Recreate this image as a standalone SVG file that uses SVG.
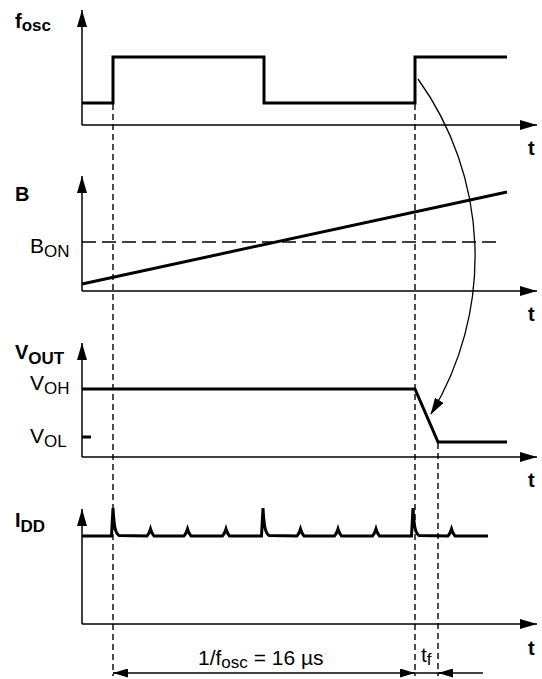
<svg xmlns="http://www.w3.org/2000/svg" width="542" height="679" viewBox="0 0 542 679">
<style>
  .ax{fill:none;stroke:#000;stroke-width:1.5}
  .wave{fill:none;stroke:#000;stroke-width:3;stroke-linejoin:miter}
  .dash{fill:none;stroke:#000;stroke-width:1.4;stroke-dasharray:6 4}
  .hdash{fill:none;stroke:#000;stroke-width:1.4;stroke-dasharray:14 6}
  .thin{fill:none;stroke:#000;stroke-width:1.3}
  .lbl{font-family:"Liberation Sans",Arial,sans-serif;font-weight:bold;font-size:20px;fill:#000}
  .txt{font-family:"Liberation Sans",Arial,sans-serif;font-size:21px;fill:#000}
  .sub{font-size:17px}
</style>
<defs>
  <marker id="axArrow" markerUnits="userSpaceOnUse" markerWidth="17" markerHeight="10" refX="17" refY="5" orient="auto" viewBox="0 0 17 10">
    <path d="M0,0 L17,5 L0,10 z" fill="#000"/>
  </marker>
  <marker id="dimArrow" markerUnits="userSpaceOnUse" markerWidth="15" markerHeight="9" refX="15" refY="4.5" orient="auto" viewBox="0 0 15 9">
    <path d="M0,0 L15,4.5 L0,9 z" fill="#000"/>
  </marker>
  <marker id="curveArrow" markerUnits="userSpaceOnUse" markerWidth="17" markerHeight="10" refX="16" refY="5" orient="auto" viewBox="0 0 17 10">
    <path d="M0,0 L17,5 L0,10 z" fill="#000"/>
  </marker>
</defs>

<g id="connectors">
  <path class="dash" d="M113,104 V676"/>
  <path class="dash" d="M415,104 V676"/>
  <path class="dash" d="M438,443 V676"/>
  <path class="thin" d="M418,79 A304,304 0 0 1 431,414" marker-end="url(#curveArrow)"/>
  <path class="thin" d="M113,673 H483"/>
  <path class="thin" d="M128,673 H113" marker-end="url(#dimArrow)"/>
  <path class="thin" d="M400,673 H415" marker-end="url(#dimArrow)"/>
  <path class="thin" d="M453,673 H438" marker-end="url(#dimArrow)"/>
</g>

<g id="fosc">
  <path class="ax" d="M82,125 V10" marker-end="url(#axArrow)"/>
  <path class="ax" d="M82,125 H537" marker-end="url(#axArrow)"/>
  <path class="wave" d="M82,103 H113 V57 H264 V103 H415 V57 H507"/>
  <text class="lbl" x="15" y="28">f<tspan class="sub" dy="3">osc</tspan></text>
  <text class="lbl" x="528" y="155">t</text>
</g>

<g id="B">
  <path class="ax" d="M82,291 V176" marker-end="url(#axArrow)"/>
  <path class="ax" d="M82,291 H537" marker-end="url(#axArrow)"/>
  <path class="hdash" d="M82,242 H499"/>
  <path class="wave" d="M82,284 L507,192"/>
  <text class="lbl" x="15" y="201">B</text>
  <text class="txt" x="30" y="253">B<tspan class="sub" dy="4">ON</tspan></text>
  <text class="lbl" x="528" y="321">t</text>
</g>

<g id="VOUT">
  <path class="ax" d="M82,457 V343" marker-end="url(#axArrow)"/>
  <path class="ax" d="M82,457 H537" marker-end="url(#axArrow)"/>
  <path class="wave" d="M82,389 H415 L438,442 H507"/>
  <path class="wave" d="M82,437 H91"/>
  <text class="lbl" x="15" y="359">V<tspan class="sub" dy="5">OUT</tspan></text>
  <text class="txt" x="30" y="390">V<tspan class="sub" dy="3.5">OH</tspan></text>
  <text class="txt" x="30" y="443">V<tspan class="sub" dy="3.5">OL</tspan></text>
  <text class="lbl" x="528" y="487">t</text>
</g>

<g id="IDD">
  <path class="ax" d="M82,624 V509" marker-end="url(#axArrow)"/>
  <path class="ax" d="M82,624 H537" marker-end="url(#axArrow)"/>
  <path class="wave" stroke-width="2.5" d="M82,536 H111.5 L113,508 C114,525 115,533 119,535.5 L147,536 Q149,534 150.5,529 Q152,534 154,536 L184,536 Q186,534 187.5,529 Q189,534 191,536 L222.5,536 Q224.5,534 226,529 Q227.5,534 229.5,536 L261.5,536 L263,508 C264,525 265,533 269,535.5 L297,536 Q299,534 300.5,529 Q302,534 304,536 L334.5,536 Q336.5,534 338,529 Q339.5,534 341.5,536 L372.5,536 Q374.5,534 376,529 Q377.5,534 379.5,536 L411.5,536 L413,508 C414,525 415,533 419,535.5 L448,536 Q450,534 451.5,529 Q453,534 455,536 L488,536"/>
  <text class="lbl" x="15" y="527">I<tspan class="sub" dy="5">DD</tspan></text>
  <text class="lbl" x="528" y="655">t</text>
</g>

<g id="dimensions">
  <text class="txt" x="198" y="665">1/f<tspan class="sub" dy="3">osc</tspan><tspan dy="-3"> = 16 µs</tspan></text>
  <text class="txt" x="421" y="662">t<tspan class="sub" dy="3">f</tspan></text>
</g>
</svg>
